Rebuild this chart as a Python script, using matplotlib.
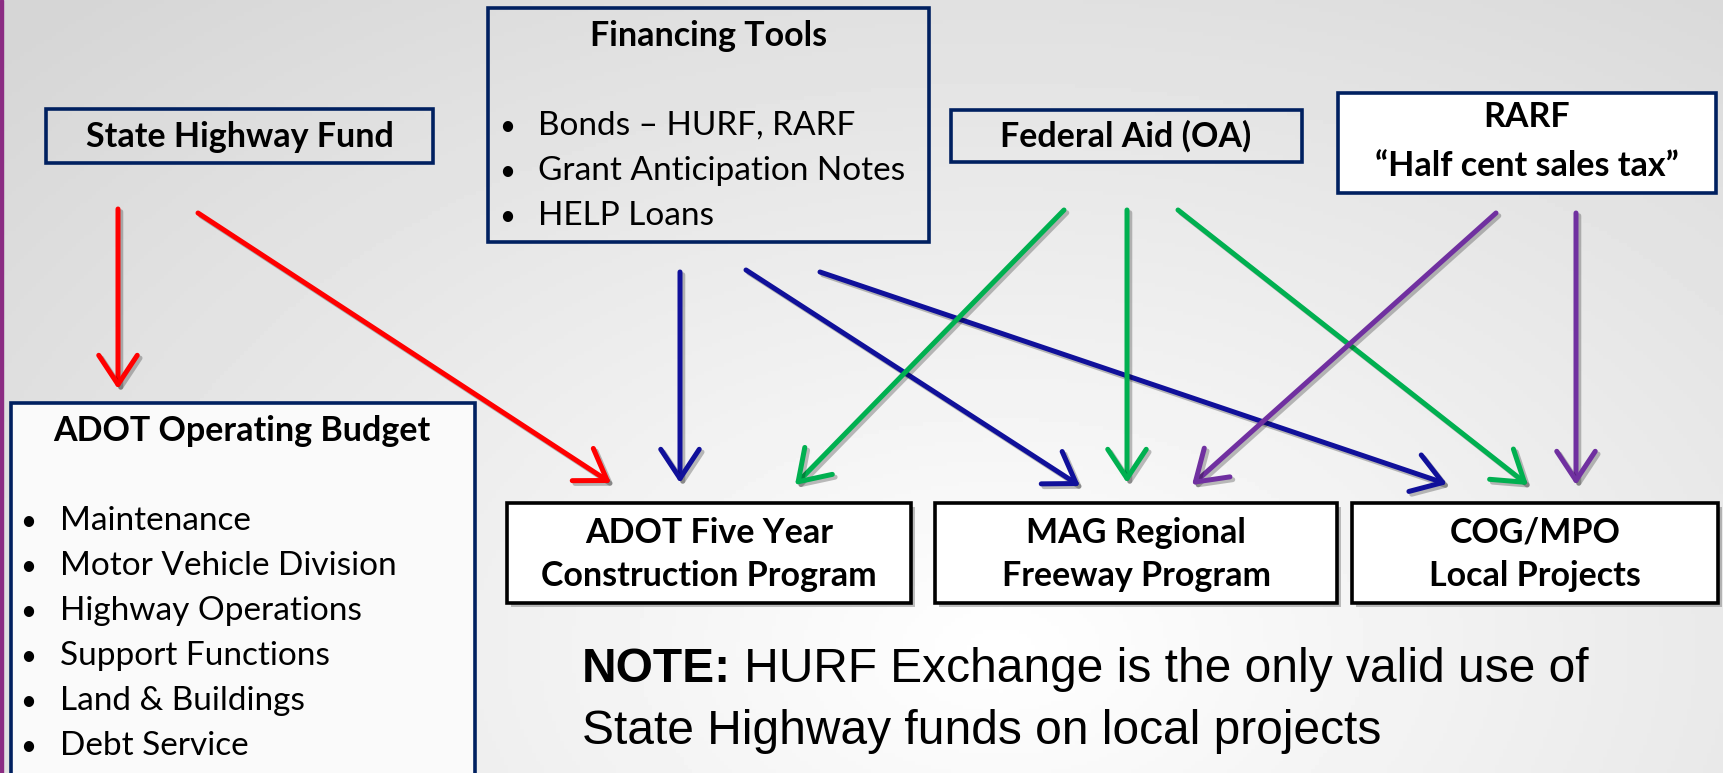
import numpy as np
import matplotlib
matplotlib.use("Agg")
import matplotlib.pyplot as plt
import matplotlib.patheffects as pe
from matplotlib.patches import Rectangle

# text content
state_label = "State Highway Fund"
fin_title = "Financing Tools"
fin_items = ["Bonds \u2013 HURF, RARF", "Grant Anticipation Notes", "HELP Loans"]
fed_label = "Federal Aid (OA)"
rarf_lines = ["RARF", "\u201cHalf cent sales tax\u201d"]
opbudget_title = "ADOT Operating Budget"
opbudget_items = ["Maintenance", "Motor Vehicle Division", "Highway Operations",
                  "Support Functions", "Land & Buildings", "Debt Service"]
program_labels = [["ADOT Five Year", "Construction Program"],
                  ["MAG Regional", "Freeway Program"],
                  ["COG/MPO", "Local Projects"]]
note_bold = "NOTE:"
note_rest = " HURF Exchange is the only valid use of"
note_line2 = "State Highway funds on local projects"

# flows: (source, target, colour)
flows = [("state", "opbudget", "red"), ("state", "adot5", "red"),
         ("fin", "adot5", "blue"), ("fin", "mag", "blue"), ("fin", "cog", "blue"),
         ("fed", "adot5", "green"), ("fed", "mag", "green"), ("fed", "cog", "green"),
         ("rarf", "mag", "purple"), ("rarf", "cog", "purple")]

colors = {"red": "#FF0000", "blue": "#10109A", "green": "#00B050", "purple": "#7030A0"}
navy = "#002060"
calibri = ["Lato", "DejaVu Sans"]
arial = ["Liberation Sans", "DejaVu Sans"]
fs_bold = 24.5
fs_reg = 24

W, H = 1723, 773
fig = plt.figure(figsize=(W / 100, H / 100), dpi=100)
ax = fig.add_axes([0, 0, 1, 1])
ax.set_xlim(0, W)
ax.set_ylim(H, 0)
ax.axis("off")

# background: soft radial gradient, a bit darker top-left
yy, xx = np.mgrid[0:H:4, 0:W:4]
r = np.sqrt(((xx - 1000) / 1100.0) ** 2 + ((yy - 650) / 700.0) ** 2)
bg = 1.0 - 0.13 * np.clip(r, 0, 1.25)
ax.imshow(bg, cmap="gray", vmin=0, vmax=1, extent=[0, W, H, 0], zorder=0, aspect="auto")
ax.add_patch(Rectangle((0, 0), 2.5, H, color="#8B2C83", zorder=1))


def box(x0, y0, x1, y1, ec=navy, fc="none", shadow=False):
    rect = Rectangle((x0, y0), x1 - x0, y1 - y0, lw=2.6, ec=ec, fc=fc, zorder=3)
    if shadow:
        rect.set_path_effects([pe.SimplePatchShadow(offset=(3, -3), alpha=0.35), pe.Normal()])
    ax.add_patch(rect)


def bullet_list(items, xb, xt, y0, step):
    for i, item in enumerate(items):
        y = y0 + i * step
        ax.text(xb, y + 1, "\u2022", ha="center", va="center", fontsize=20,
                family=calibri, zorder=4)
        ax.text(xt, y, item, ha="left", va="center", fontsize=fs_reg, family=calibri, zorder=4)


def bold_text(x, y, s):
    ax.text(x, y, s, ha="center", va="center", fontsize=fs_bold, fontweight="bold",
            family=calibri, zorder=4)


# top boxes
box(46, 109, 433, 163)
bold_text(240, 137, state_label)

box(488, 8, 929, 242)
bold_text(709, 36, fin_title)
bullet_list(fin_items, 507, 538, 126, 45)

box(951, 110, 1302, 162)
bold_text(1126, 136, fed_label)

box(1338, 93, 1716, 193, fc="white")
bold_text(1527, 117, rarf_lines[0])
bold_text(1527, 166, rarf_lines[1])

# operating budget box
box(11, 403, 475, 790, fc="#FAFAFA")
bold_text(242, 431, opbudget_title)
bullet_list(opbudget_items, 28, 60, 521, 45)

# program boxes
prog_boxes = [(507, 503, 911, 603), (935, 503, 1337, 603), (1352, 503, 1718, 603)]
for (x0, y0, x1, y1), lines in zip(prog_boxes, program_labels):
    box(x0, y0, x1, y1, ec="black", fc="white", shadow=True)
    cx = (x0 + x1) / 2
    bold_text(cx, 533, lines[0])
    bold_text(cx, 576, lines[1])

# arrow ports
starts = {("state", "opbudget"): (118, 209), ("state", "adot5"): (198, 213),
          ("fin", "adot5"): (680, 272), ("fin", "mag"): (746, 270), ("fin", "cog"): (820, 272),
          ("fed", "adot5"): (1064, 210), ("fed", "mag"): (1127, 210), ("fed", "cog"): (1178, 210),
          ("rarf", "mag"): (1496, 213), ("rarf", "cog"): (1576, 213)}
ends = {("state", "opbudget"): (118, 389), ("state", "adot5"): (611, 483),
        ("fin", "adot5"): (680, 483), ("fin", "mag"): (1080, 486), ("fin", "cog"): (1447, 484),
        ("fed", "adot5"): (795, 485), ("fed", "mag"): (1127, 483), ("fed", "cog"): (1528, 485),
        ("rarf", "mag"): (1192, 485), ("rarf", "cog"): (1576, 485)}

for src, dst, c in flows:
    ax.annotate("", xy=ends[(src, dst)], xytext=starts[(src, dst)],
                arrowprops=dict(arrowstyle="->,head_length=0.5,head_width=0.33", lw=3.6,
                                color=colors[c], shrinkA=0, shrinkB=0, mutation_scale=42,
                                path_effects=[pe.SimpleLineShadow(offset=(2, -2), alpha=0.25),
                                              pe.Normal()]),
                zorder=5)

# note
fs_note = 34.5
t = ax.text(582, 670, note_bold, ha="left", va="center", fontsize=fs_note, fontweight="bold",
            family=arial, zorder=4)
fig.canvas.draw()
bb = t.get_window_extent()
x_end = ax.transData.inverted().transform((bb.x1, bb.y0))[0]
ax.text(x_end, 670, note_rest, ha="left", va="center", fontsize=fs_note, family=arial, zorder=4)
ax.text(582, 731, note_line2, ha="left", va="center", fontsize=fs_note, family=arial, zorder=4)

fig.savefig("out.png", dpi=100)
